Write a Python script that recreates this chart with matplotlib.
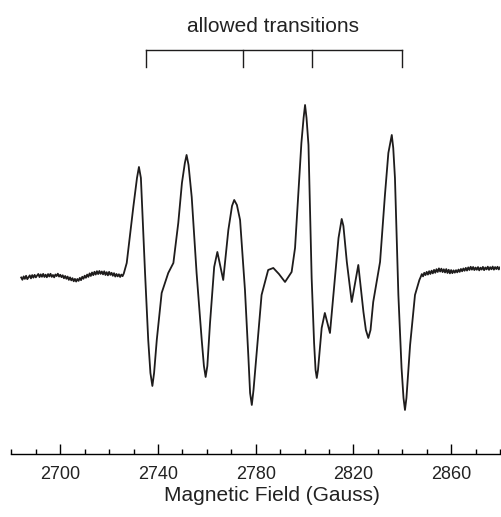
import numpy as np
import matplotlib
matplotlib.use("Agg")
import matplotlib.pyplot as plt
from matplotlib.ticker import MultipleLocator

plt.rcParams['font.family'] = ['Liberation Sans', 'DejaVu Sans']

# flat noisy baseline on the low-field side (G, arb. units)
campo_esq = np.arange(2684.0, 2726.5, 0.5)
sinal_esq = [0.5, -1.8, 1.6, -0.9, 2.2, -1.2, 0.8, 2.6, -0.4, 2.9,
             0.3, 3.1, 0.6, 2.4, 4.0, 0.9, 3.6, 1.2, 4.1, 1.0,
             3.3, 0.7, 3.9, 1.5, 4.2, 1.1, 3.0, 0.6, 3.5, 1.9,
             4.3, 1.4, 3.2, 0.8, 2.7, -0.3, 2.0, -0.8, 1.4, -1.9,
             0.6, -2.4, -0.2, -3.3, -0.9, -3.6, -1.0, -2.9, 0.1, -2.2,
             1.2, -0.8, 2.3, 0.2, 3.4, 1.1, 4.6, 2.0, 5.5, 2.8,
             6.2, 3.4, 6.8, 3.9, 7.0, 4.1, 6.5, 3.6, 6.7, 3.0,
             5.8, 2.6, 6.1, 3.1, 5.2, 2.2, 4.8, 1.4, 4.0, 1.6,
             3.7, 1.0, 3.4, 1.8, 4.5]

# the resonance lines
campo_meio = [2727.2, 2729.9, 2731.4, 2732.2, 2733.0, 2734.7, 2736.0, 2736.9, 2737.7, 2738.4,
              2739.5, 2741.5, 2744.2, 2746.3, 2748.3, 2749.8, 2751.0, 2751.7, 2752.5, 2753.8,
              2755.8, 2757.9, 2758.8, 2759.5, 2760.2, 2761.3, 2763.0, 2764.3, 2766.7, 2768.8,
              2770.3, 2771.2, 2772.3, 2773.6, 2775.6, 2777.0, 2777.7, 2778.4, 2779.1, 2780.4,
              2782.4, 2785.1, 2787.2, 2789.5, 2792.0, 2794.7, 2796.1, 2797.4, 2798.7, 2799.6,
              2800.2, 2800.8, 2801.6, 2802.9, 2803.9, 2804.5, 2805.0, 2805.5, 2807.0, 2808.3,
              2810.4, 2812.4, 2813.9, 2815.2, 2815.9, 2817.3, 2819.3, 2822.0, 2824.1, 2825.1,
              2826.1, 2827.0, 2828.1, 2830.9, 2832.9, 2834.3, 2835.7, 2836.3, 2837.0, 2838.4,
              2839.7, 2840.5, 2841.1, 2841.7, 2843.2, 2845.2, 2847.0]
sinal_meio = [15, 71, 100, 111, 100, 5, -62, -95, -108, -95,
              -62, -15, 5, 15, 55, 95, 115, 123, 113, 81,
              5, -62, -88, -99, -88, -45, 11, 26, -2, 48,
              72, 78, 73, 58, -12, -79, -115, -127, -112, -75,
              -17, 8, 10, 4, -4, 6, 30, 83, 135, 160,
              173, 160, 133, 0, -65, -92, -100, -92, -50, -35,
              -55, 0, 40, 59, 52, 16, -24, 13, -34, -52,
              -60, -52, -24, 16, 83, 125, 143, 130, 100, -17,
              -90, -120, -132, -120, -67, -17, -2]

# high-field baseline
campo_dir = np.arange(2847.5, 2880.5, 0.5)
sinal_dir = [0.8, 3.9, 1.6, 5.2, 2.9, 6.1, 3.4, 6.8, 4.0, 7.3,
             4.6, 8.1, 5.2, 8.8, 6.0, 9.6, 6.4, 9.3, 5.9, 8.7,
             5.5, 8.9, 5.0, 8.2, 4.6, 7.9, 4.8, 7.6, 5.3, 7.8,
             5.6, 8.4, 6.1, 9.0, 6.7, 9.5, 7.2, 10.1, 7.4, 10.6,
             8.0, 11.2, 8.3, 11.0, 7.9, 10.4, 8.2, 10.9, 7.6, 10.3,
             8.4, 11.1, 7.8, 10.5, 8.6, 11.3, 8.1, 10.8, 8.7, 11.4,
             8.3, 10.9, 8.9, 11.2, 8.5, 10.6]

# positions of the allowed transitions
transicoes = [2735, 2775, 2803, 2840]

campo = np.concatenate([campo_esq, campo_meio, campo_dir])
sinal = np.concatenate([sinal_esq, sinal_meio, sinal_dir])

fig = plt.figure(figsize=(5.01, 5.17), dpi=100)
ax = fig.add_axes([0.0228, 0.1219, 0.9752, 0.8008])

ax.plot(campo, sinal, color='#1e1c1c', linewidth=1.3)

# bracket over the transitions
ax.plot([transicoes[0], transicoes[-1]], [228, 228], color='#1e1c1c', linewidth=1.0, clip_on=False)
for t in transicoes:
    ax.plot([t, t], [211, 228], color='#1e1c1c', linewidth=1.0, clip_on=False)
ax.text(2787, 246, "allowed transitions",
        ha='center', va='baseline', fontsize=15, color='#222222', clip_on=False)

ax.set_xlim(2680, 2880)
ax.set_ylim(-176, 238)

for lado in ['top', 'right', 'left']:
    ax.spines[lado].set_visible(False)
ax.spines['bottom'].set_linewidth(1.0)
ax.set_yticks([])

ax.xaxis.set_major_locator(MultipleLocator(40))
ax.xaxis.set_minor_locator(MultipleLocator(10))
ax.set_xticks(range(2700, 2861, 40))
ax.tick_params(axis='x', which='major', direction='in', length=7, width=1.0, pad=9, labelsize=13, labelcolor='#222222')
ax.tick_params(axis='x', which='minor', direction='in', length=3.6, width=1.0)

ax.set_xlabel("Magnetic Field (Gauss)", fontsize=15, color='#222222')
ax.xaxis.set_label_coords(0.534, -0.077)

plt.savefig("out.png", dpi=100)
plt.close()
